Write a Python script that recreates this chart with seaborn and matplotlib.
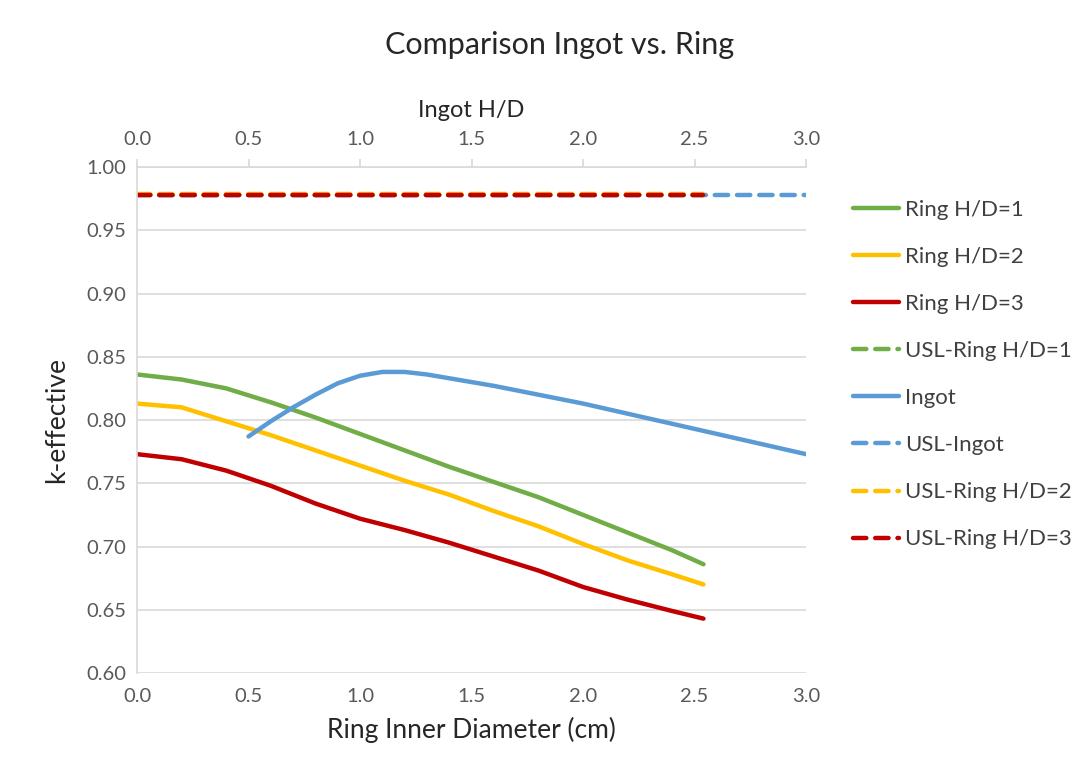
#------------------Comparison of k-effective: Ingot vs. Ring------------------#

import numpy as np
import pandas as pd
import matplotlib
matplotlib.use('Agg')
import matplotlib.pyplot as plt
import seaborn as sns

#Values
ring_x = [0.0, 0.2, 0.4, 0.6, 0.8, 1.0, 1.2, 1.4, 1.6, 1.8, 2.0, 2.2, 2.4, 2.54]
ring_hd1 = [0.836, 0.832, 0.825, 0.814, 0.802, 0.789, 0.776, 0.763, 0.751, 0.739, 0.725, 0.711, 0.697, 0.686]
ring_hd2 = [0.813, 0.810, 0.799, 0.788, 0.776, 0.764, 0.752, 0.741, 0.728, 0.716, 0.702, 0.689, 0.678, 0.670]
ring_hd3 = [0.773, 0.769, 0.760, 0.748, 0.734, 0.722, 0.713, 0.703, 0.692, 0.681, 0.668, 0.658, 0.649, 0.643]

ingot_x = [0.5, 0.6, 0.7, 0.8, 0.9, 1.0, 1.1, 1.2, 1.3, 1.4, 1.6, 1.8, 2.0, 2.2, 2.4, 2.6, 2.8, 3.0]
ingot = [0.787, 0.799, 0.810, 0.820, 0.829, 0.835, 0.838, 0.838, 0.836, 0.833, 0.827, 0.820, 0.813, 0.805, 0.797, 0.789, 0.781, 0.773]

usl_ring_x = [0.0, 2.54]
usl_ingot_x = [0.0, 3.0]
usl_hd1 = [0.978, 0.978]
usl_hd2 = [0.9783, 0.9783]
usl_hd3 = [0.9777, 0.9777]
usl_ingot = [0.978, 0.978]

green = '#70AD47'
yellow = '#FFC000'
red = '#C00000'
blue = '#5B9BD5'

sns.set_style('white')
plt.rcParams['font.family'] = ['Lato', 'DejaVu Sans']

fig = plt.figure(figsize=(10.91, 7.75), dpi=100)
ax = fig.add_axes([0.1256, 0.1316, 0.6132, 0.6529])

lw = 3.2
dash = (3.0, 2.0)

#Solid curves and USL lines, in the original legend order
sns.lineplot(x=ring_x, y=ring_hd1, ax=ax, color=green, lw=lw, label='Ring H/D=1', estimator=None, sort=False)
sns.lineplot(x=ring_x, y=ring_hd2, ax=ax, color=yellow, lw=lw, label='Ring H/D=2', estimator=None, sort=False)
sns.lineplot(x=ring_x, y=ring_hd3, ax=ax, color=red, lw=lw, label='Ring H/D=3', estimator=None, sort=False)
sns.lineplot(x=usl_ring_x, y=usl_hd1, ax=ax, color=green, lw=lw, label='USL-Ring H/D=1',
             linestyle=(0, dash), dash_capstyle='round', estimator=None)
sns.lineplot(x=ingot_x, y=ingot, ax=ax, color=blue, lw=lw, label='Ingot', estimator=None, sort=False)
sns.lineplot(x=usl_ingot_x, y=usl_ingot, ax=ax, color=blue, lw=lw, label='USL-Ingot',
             linestyle=(0, dash), dash_capstyle='round', estimator=None)
sns.lineplot(x=usl_ring_x, y=usl_hd2, ax=ax, color=yellow, lw=lw, label='USL-Ring H/D=2',
             linestyle=(0, dash), dash_capstyle='round', estimator=None)
sns.lineplot(x=usl_ring_x, y=usl_hd3, ax=ax, color=red, lw=lw, label='USL-Ring H/D=3',
             linestyle=(0, dash), dash_capstyle='round', estimator=None)

ax.set_xlim(0, 3.0)
ax.set_ylim(0.60, 1.00)
ax.set_xticks(np.arange(0, 3.01, 0.5))
ax.set_yticks(np.arange(0.60, 1.001, 0.05))
ax.set_xticklabels([f'{v:.1f}' for v in np.arange(0, 3.01, 0.5)])
ax.set_yticklabels([f'{v:.2f}' for v in np.arange(0.60, 1.001, 0.05)])
ax.grid(axis='y', color='#D9D9D9', lw=1.2)
ax.set_axisbelow(True)

for s in ['top', 'right', 'bottom']:
    ax.spines[s].set_visible(False)
ax.spines['left'].set_color('#D9D9D9')
ax.spines['left'].set_linewidth(1.2)
ax.tick_params(axis='both', labelsize=14.5, colors='#595959', length=0, pad=8)
ax.tick_params(axis='x', pad=11)

ax.set_xlabel('Ring Inner Diameter (cm)', fontsize=19, color='#262626', labelpad=8)
ax.set_ylabel('k-effective', fontsize=19, color='#262626', labelpad=12)

#Secondary horizontal axis for the ingot
top = ax.secondary_xaxis('top')
top.set_xticks(np.arange(0, 3.01, 0.5))
top.set_xticklabels([f'{v:.1f}' for v in np.arange(0, 3.01, 0.5)])
top.spines['top'].set_color('#D9D9D9')
top.spines['top'].set_linewidth(1.2)
top.tick_params(axis='x', labelsize=14.5, labelcolor='#595959', color='#D9D9D9', length=6, width=1.2, pad=8)
top.set_xlabel('Ingot H/D', fontsize=17, color='#262626', labelpad=10)

fig.text(0.513, 0.942, 'Comparison Ingot vs. Ring', fontsize=22, color='#262626', ha='center', va='center')

ax.legend(loc='upper left', bbox_to_anchor=(1.04, 0.975), frameon=False, fontsize=16,
          handlelength=2.1, handletextpad=0.25, labelspacing=1.22, labelcolor='#404040')

fig.savefig('out.png', dpi=100)
